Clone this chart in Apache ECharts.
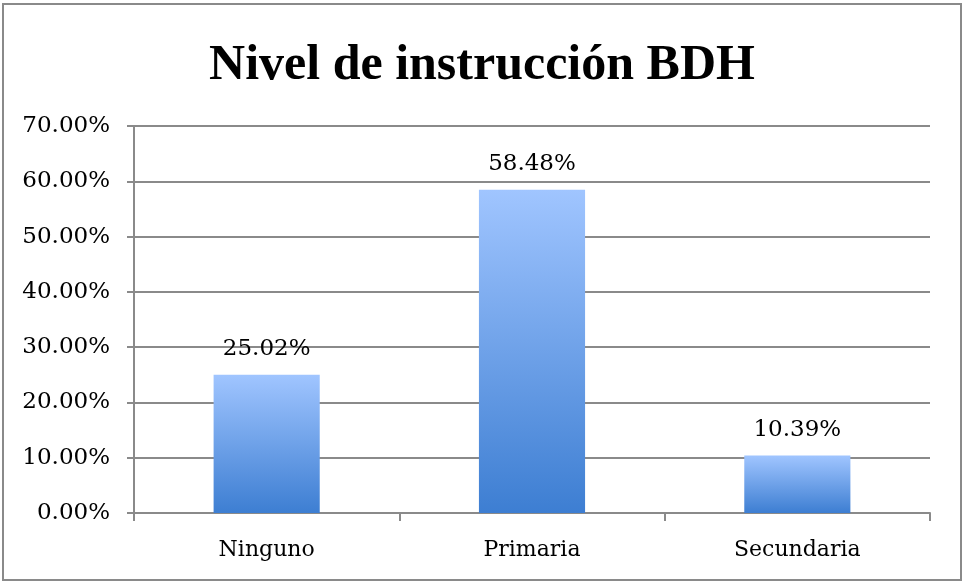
<!DOCTYPE html>
<html>
<head>
<meta charset="utf-8">
<script src="https://cdn.jsdelivr.net/npm/echarts@6/dist/echarts.min.js"></script>
<style>
  html, body { margin: 0; padding: 0; background: #fff; }
  #myChart { width: 964px; height: 581px; }
  .frame {
    position: absolute; left: 2px; top: 3px; width: 956px; height: 574px;
    border: 2px solid #8a8a8a; pointer-events: none;
  }
</style>
</head>
<body>
<div id="myChart"></div>
<div class="frame"></div>
<script>
// datos del gráfico
var categorias = ["Ninguno", "Primaria", "Secundaria"];
var valores = [25.02, 58.48, 10.39];
var titulo = "Nivel de instrucción BDH";

var fuente = "'DejaVu Serif', serif";
var fuenteTitulo = "'Liberation Serif', serif";

var myChart = echarts.init(document.getElementById("myChart"));
myChart.setOption({
  animation: false,
  title: {
    text: titulo,
    left: "center",
    top: 36,
    textStyle: {
      fontFamily: fuenteTitulo,
      fontWeight: "bold",
      fontSize: 50,
      color: "#000"
    }
  },
  grid: {
    left: 134,
    right: 34,
    top: 126,
    bottom: 68
  },
  xAxis: {
    type: "category",
    data: categorias,
    axisLine: { lineStyle: { color: "#8a8a8a", width: 2 } },
    axisTick: { show: true, length: 8, lineStyle: { color: "#8a8a8a", width: 2 } },
    axisLabel: {
      fontFamily: fuente,
      fontSize: 22,
      color: "#000",
      margin: 26
    }
  },
  yAxis: {
    type: "value",
    min: 0,
    max: 70,
    interval: 10,
    axisLine: { show: true, lineStyle: { color: "#8a8a8a", width: 2 } },
    axisTick: { show: true, length: 7, lineStyle: { color: "#8a8a8a", width: 2 } },
    splitLine: { lineStyle: { color: "#8a8a8a", width: 2 } },
    axisLabel: {
      fontFamily: fuente,
      fontSize: 23,
      color: "#000",
      margin: 24,
      formatter: function (v) { return v.toFixed(2) + "%"; }
    }
  },
  series: [
    {
      type: "bar",
      data: valores,
      barWidth: "40%",
      itemStyle: {
        color: new echarts.graphic.LinearGradient(0, 0, 0, 1, [
          { offset: 0, color: "#a0c5ff" },
          { offset: 1, color: "#3d7ed2" }
        ])
      },
      label: {
        show: true,
        position: "top",
        distance: 14,
        fontFamily: fuente,
        fontSize: 23,
        color: "#000",
        formatter: function (p) { return p.value.toFixed(2) + "%"; }
      }
    }
  ]
});
</script>
</body>
</html>
